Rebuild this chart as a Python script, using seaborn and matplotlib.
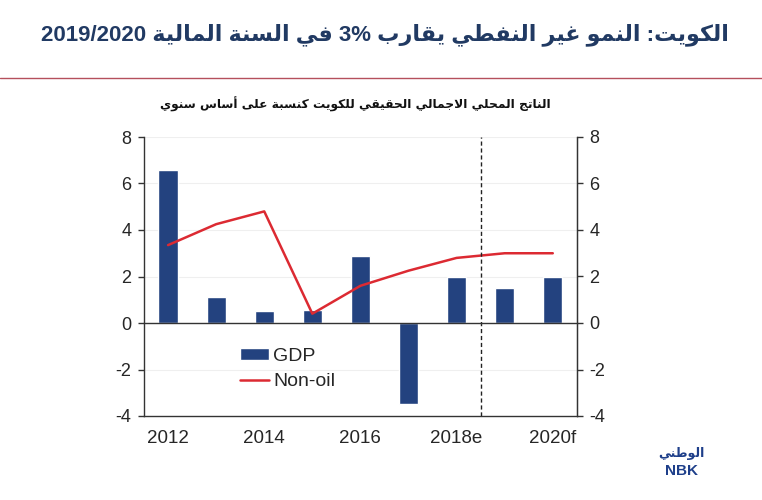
import re
import numpy as np
import pandas as pd
import matplotlib
matplotlib.use("Agg")
import matplotlib.pyplot as plt
import seaborn as sns

# ---------------- data ----------------
years = ["2012", "2013", "2014", "2015", "2016", "2017", "2018", "2019", "2020"]
tick_labels = ["2012", "2014", "2016", "2018e", "2020f"]
gdp = [6.6, 1.1, 0.5, 0.55, 2.9, -3.5, 2.0, 1.5, 2.0]
non_oil = [3.35, 4.25, 4.8, 0.4, 1.6, 2.25, 2.8, 3.0, 3.0]

title_text = "الكويت: النمو غير النفطي يقارب 3% في السنة المالية 2019/2020"
subtitle_text = "الناتج المحلي الاجمالي الحقيقي للكويت كنسبة على أساس سنوي"
logo_ar = "الوطني"

# ---------------- minimal Arabic shaping + bidi ----------------
_SPEC = [(0x621, 0xFE80, 1), (0x622, 0xFE81, 2), (0x623, 0xFE83, 2), (0x624, 0xFE85, 2),
         (0x625, 0xFE87, 2), (0x626, 0xFE89, 4), (0x627, 0xFE8D, 2), (0x628, 0xFE8F, 4),
         (0x629, 0xFE93, 2), (0x62A, 0xFE95, 4), (0x62B, 0xFE99, 4), (0x62C, 0xFE9D, 4),
         (0x62D, 0xFEA1, 4), (0x62E, 0xFEA5, 4), (0x62F, 0xFEA9, 2), (0x630, 0xFEAB, 2),
         (0x631, 0xFEAD, 2), (0x632, 0xFEAF, 2), (0x633, 0xFEB1, 4), (0x634, 0xFEB5, 4),
         (0x635, 0xFEB9, 4), (0x636, 0xFEBD, 4), (0x637, 0xFEC1, 4), (0x638, 0xFEC5, 4),
         (0x639, 0xFEC9, 4), (0x63A, 0xFECD, 4), (0x641, 0xFED1, 4), (0x642, 0xFED5, 4),
         (0x643, 0xFED9, 4), (0x644, 0xFEDD, 4), (0x645, 0xFEE1, 4), (0x646, 0xFEE5, 4),
         (0x647, 0xFEE9, 4), (0x648, 0xFEED, 2), (0x649, 0xFEEF, 2), (0x64A, 0xFEF1, 4)]
_FORMS = {chr(c): (s, n) for c, s, n in _SPEC}
_LAMALEF = {"\u0622": 0xFEF5, "\u0623": 0xFEF7, "\u0625": 0xFEF9, "\u0627": 0xFEFB}


def _jtype(u):
    if isinstance(u, tuple):
        return "R"
    if u in _FORMS:
        n = _FORMS[u][1]
        return {1: "U", 2: "R", 4: "D"}[n]
    return None


def shape_ar(text):
    units = []
    i = 0
    while i < len(text):
        c = text[i]
        if c == "\u0644" and i + 1 < len(text) and text[i + 1] in _LAMALEF:
            units.append(("LA", text[i + 1]))
            i += 2
        else:
            units.append(c)
            i += 1
    out = []
    for k, u in enumerate(units):
        t = _jtype(u)
        if t is None:
            out.append(u)
            continue
        prev = k > 0 and _jtype(units[k - 1]) == "D" and t in ("D", "R")
        nxt = (t == "D" and k + 1 < len(units) and _jtype(units[k + 1]) in ("D", "R"))
        if isinstance(u, tuple):
            out.append(chr(_LAMALEF[u[1]] + (1 if prev else 0)))
            continue
        start, n = _FORMS[u]
        if n == 1:
            out.append(chr(start))
        elif n == 2:
            out.append(chr(start + (1 if prev else 0)))
        else:
            if prev and nxt:
                idx = 3
            elif prev:
                idx = 1
            elif nxt:
                idx = 2
            else:
                idx = 0
            out.append(chr(start + idx))
    shaped = "".join(out)
    runs = re.findall(r"[0-9A-Za-z%/.]+|[^0-9A-Za-z%/.]+", shaped)
    vis = []
    for r in reversed(runs):
        if re.fullmatch(r"[0-9A-Za-z%/.]+", r):
            vis.append(r)
        else:
            vis.append(r[::-1])
    return "".join(vis)


# ---------------- style ----------------
sns.set_style("white")
plt.rcParams["font.family"] = ["Liberation Sans", "DejaVu Sans"]

navy = "#23427f"
red = "#dc2a32"
axis_col = "#333333"

df = pd.DataFrame({"year": years, "GDP": gdp, "Non-oil": non_oil})
df["pos"] = np.arange(len(df))

fig = plt.figure(figsize=(7.62, 5.0), dpi=100)
ax = fig.add_axes([0.189, 0.168, 0.568, 0.558])

ax.grid(axis="y", color="#efefef", lw=0.8)
ax.set_axisbelow(True)

sns.barplot(data=df, x="year", y="GDP", color=navy, saturation=1, width=0.4,
            ax=ax, label="GDP", legend=False)
sns.lineplot(data=df, x="pos", y="Non-oil", color=red, lw=1.8, ax=ax,
             label="Non-oil", legend=False)

ax.set_xlim(-0.5, len(years) - 0.5)
ax.set_ylim(-4, 8)
ax.set_yticks(np.arange(-4, 9, 2))
ax.set_yticklabels([str(v) for v in range(-4, 9, 2)])
ax.set_xlabel("")
ax.set_ylabel("")

# dashed separator between actual and forecast
ax.axvline(6.5, color="#222222", lw=1, ls=(0, (3, 2)))

# x-axis spine on zero with boundary ticks
ax.spines["bottom"].set_position(("data", 0))
ax.set_xticks(np.arange(-0.5, len(years), 1.0))
ax.set_xticklabels([])
ax.tick_params(axis="x", direction="out", length=5, width=1, color=axis_col)
ax.tick_params(axis="y", direction="out", length=4, width=1, color=axis_col,
               labelsize=13, pad=5)
for s in ["left", "right", "bottom"]:
    ax.spines[s].set_color(axis_col)
    ax.spines[s].set_linewidth(1)
ax.spines["top"].set_visible(False)

# bottom labels axis at -4
sec = ax.secondary_xaxis("bottom")
sec.set_xticks([years.index(t[:4]) for t in tick_labels])
sec.set_xticklabels(tick_labels)
sec.tick_params(length=0, pad=10, labelsize=13.5)
sec.spines["bottom"].set_color(axis_col)
sec.spines["bottom"].set_linewidth(1)

# right axis
ax2 = ax.twinx()
ax2.set_ylim(-4, 8)
ax2.set_yticks(np.arange(-4, 9, 2))
ax2.set_yticklabels([str(v) for v in range(-4, 9, 2)])
ax2.tick_params(axis="y", direction="out", length=4, width=1, color=axis_col,
                labelsize=13, pad=5)
for s in ["top", "left", "bottom"]:
    ax2.spines[s].set_visible(False)
ax2.spines["right"].set_color(axis_col)

# legend (GDP first)
handles, labels = ax.get_legend_handles_labels()
order = [labels.index("GDP"), labels.index("Non-oil")]
ax.legend([handles[i] for i in order], [labels[i] for i in order],
          loc="upper left", bbox_to_anchor=(0.222, 0.245),
          frameon=False, fontsize=14, handlelength=1.5, handleheight=0.6,
          handletextpad=0.2, labelspacing=0.45, borderpad=0, borderaxespad=0)

# titles
fig.text(0.505, 0.93, shape_ar(title_text), ha="center", va="center",
         fontsize=16, fontweight="bold", color="#213a63",
         family=["Liberation Sans", "DejaVu Sans"])
fig.add_artist(plt.Line2D([0, 1], [0.845, 0.845], transform=fig.transFigure,
                          color="#b5505c", lw=1))
fig.text(0.466, 0.792, shape_ar(subtitle_text), ha="center", va="center",
         fontsize=8.8, fontweight="bold", color="#111111",
         family=["DejaVu Sans"])

# logo
fig.text(0.894, 0.093, shape_ar(logo_ar), ha="center", va="center",
         fontsize=9, fontweight="bold", color="#1e3f8a", family=["DejaVu Sans"])
fig.text(0.894, 0.058, "NBK", ha="center", va="center",
         fontsize=11, fontweight="bold", color="#1e3f8a")

fig.savefig("out.png", dpi=100)
